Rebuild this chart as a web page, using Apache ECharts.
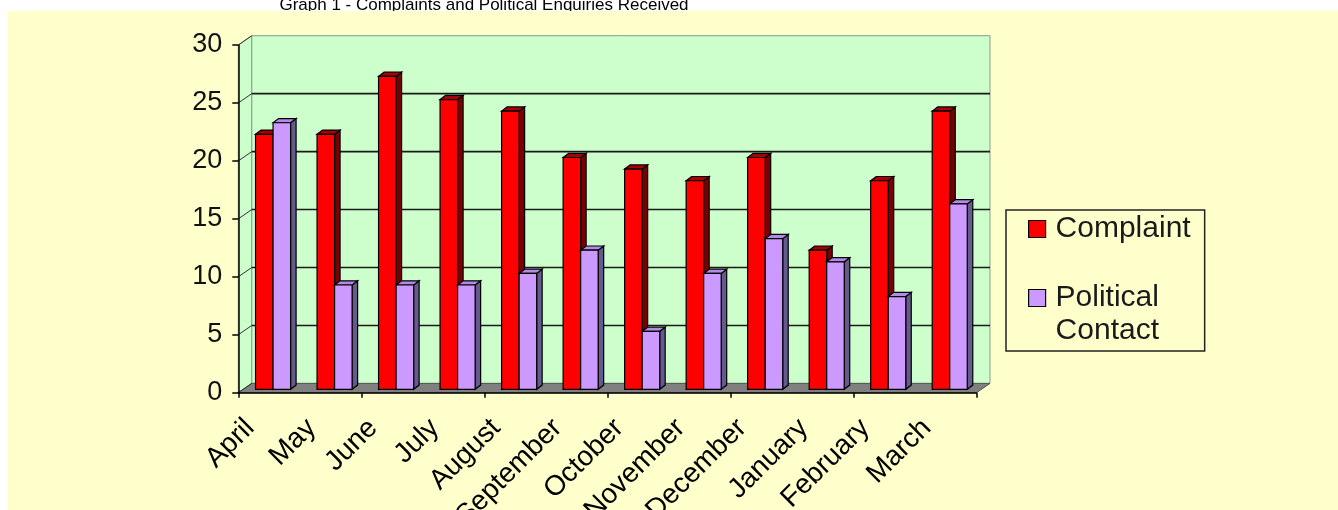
<!DOCTYPE html>
<html>
<head>
<meta charset="utf-8">
<script src="https://cdn.jsdelivr.net/npm/echarts@6/dist/echarts.min.js"></script>
<style>
html,body{margin:0;padding:0;background:#ffffff;}
#chart{width:1338px;height:510px;}
</style>
</head>
<body>
<div id="chart"></div>
<script>
const months = ['April','May','June','July','August','September','October','November','December','January','February','March'];
const complaint = [22,22,27,25,24,20,19,18,20,12,18,24];
const political = [23,9,9,9,10,12,5,10,13,11,8,16];
const yTicks = [0,5,10,15,20,25,30];
const titleText = 'Graph 1 - Complaints and Political Enquiries Received';

const FONT = '"Liberation Sans", Arial, sans-serif';
const DX = 13.5, DY = -9.3;      // wall depth
const BX = 4, BY = -3.4;         // bar row depth
const SX = 5.5, SY = -4.2;       // bar depth
const BAR_FRAC = 0.285;

const chart = echarts.init(document.getElementById('chart'), null, {renderer:'canvas'});

function frameRender(params, api){
  const bw = api.size([1,0])[0];
  const n = months.length;
  const x0 = api.coord([0,0])[0] - bw/2;
  const x1 = api.coord([n-1,0])[0] + bw/2;
  const yb = api.coord([0,yTicks[0]])[1];
  const yt = api.coord([0,yTicks[yTicks.length-1]])[1];
  const ch = [];
  ch.push({type:'polygon', shape:{points:[[x0,yt],[x0+DX,yt+DY],[x0+DX,yb+DY],[x0,yb]]},
    style:{fill:'#CCFFCC', stroke:'#8a9a8a', lineWidth:1}});
  ch.push({type:'polygon', shape:{points:[[x0+DX,yt+DY],[x1+DX,yt+DY],[x1+DX,yb+DY],[x0+DX,yb+DY]]},
    style:{fill:'#CCFFCC', stroke:'#8a9a8a', lineWidth:1}});
  ch.push({type:'polygon', shape:{points:[[x0,yb],[x1,yb],[x1+DX,yb+DY],[x0+DX,yb+DY]]},
    style:{fill:'#808080', stroke:'#555', lineWidth:1}});
  yTicks.forEach(function(v){
    const y = api.coord([0,v])[1];
    ch.push({type:'line', shape:{x1:x0, y1:y, x2:x0+DX, y2:y+DY}, style:{stroke:'#333', lineWidth:1}});
    if (v > yTicks[0] && v < yTicks[yTicks.length-1]) {
      ch.push({type:'line', shape:{x1:x0+DX, y1:y+DY, x2:x1+DX, y2:y+DY}, style:{stroke:'#1a1a1a', lineWidth:1.6}});
    }
  });
  return {type:'group', children:ch};
}

function barRender(side, front, dark, topc){
  return function(params, api){
    const i = api.value(0), v = api.value(1);
    const bw = api.size([1,0])[0];
    const base = api.coord([i,0]);
    const top = api.coord([i,v]);
    const w = bw * BAR_FRAC;
    const xl = base[0] + BX + (side === 0 ? -w : 0);
    const xr = xl + w;
    const yb = base[1] + BY, yt = top[1] + BY;
    const st = {stroke:'#000', lineWidth:1.2};
    return {type:'group', children:[
      {type:'polygon', shape:{points:[[xr,yt],[xr+SX,yt+SY],[xr+SX,yb+SY],[xr,yb]]}, style:Object.assign({fill:dark},st)},
      {type:'polygon', shape:{points:[[xl,yt],[xl+SX,yt+SY],[xr+SX,yt+SY],[xr,yt]]}, style:Object.assign({fill:topc},st)},
      {type:'rect', shape:{x:xl, y:yt, width:w, height:yb-yt}, style:Object.assign({fill:front},st)}
    ]};
  };
}

const option = {
  animation:false,
  backgroundColor:'#ffffff',
  textStyle:{fontFamily:FONT},
  graphic:[
    {type:'text', z:-10, x:484, y:14,
      style:{text:titleText, font:'17px ' + FONT, fill:'#000', textAlign:'center', textVerticalAlign:'bottom'}},
    {type:'rect', z:-5, shape:{x:8, y:11, width:1330, height:499}, style:{fill:'#FFFFCC'}}
  ],
  grid:[
    {left:238.3, right:361.5, top:45, bottom:117.3, outerBoundsMode:'none', containLabel:false},
    {left:219.3, right:380.5, top:45, bottom:117.3, outerBoundsMode:'none', containLabel:false}
  ],
  legend:{
    orient:'vertical', left:1006, top:210,
    padding:[2.5,14,3.5,22],
    borderColor:'#222', borderWidth:1.5,
    itemWidth:17, itemHeight:17, itemGap:3,
    icon:'rect',
    itemStyle:{borderColor:'#000', borderWidth:1.2},
    textStyle:{fontFamily:FONT, fontSize:30, color:'#1a1a1a', lineHeight:33, padding:[0,0,0,5]},
    data:[
      {name:'Complaint'},
      {name:'Political Contact'}
    ],
    formatter:function(name){ return name === 'Political Contact' ? '\nPolitical\nContact' : name; },
    selectedMode:false
  },
  xAxis:[
    {type:'category', gridIndex:0, data:months, boundaryGap:true, z:10,
      axisLine:{show:true, lineStyle:{color:'#000', width:1.5}},
      axisTick:{show:true, length:5, lineStyle:{color:'#000', width:1.5}},
      axisLabel:{show:false}, splitLine:{show:false}},
    {type:'category', gridIndex:1, data:months, boundaryGap:true,
      axisLine:{show:false}, axisTick:{show:false}, splitLine:{show:false},
      axisLabel:{show:true, interval:0, rotate:45, margin:31, fontFamily:FONT, fontSize:28, color:'#000'}}
  ],
  yAxis:[
    {type:'value', gridIndex:0, min:0, max:30, interval:5, z:10,
      axisLine:{show:true, lineStyle:{color:'#000', width:1.5}},
      axisTick:{show:true, length:6, lineStyle:{color:'#000', width:1.5}},
      axisLabel:{show:true, margin:16, fontFamily:FONT, fontSize:27, color:'#111'},
      splitLine:{show:false}},
    {type:'value', gridIndex:1, min:0, max:30, interval:5, show:false}
  ],
  series:[
    {type:'custom', name:'frame', xAxisIndex:0, yAxisIndex:0, z:1, silent:true,
      data:[[0,0]], encode:{x:0, y:1}, renderItem:frameRender},
    {type:'custom', name:'Complaint', xAxisIndex:0, yAxisIndex:0, z:3,
      itemStyle:{color:'#FF0000'},
      data:complaint.map(function(v,i){return [i,v];}), encode:{x:0,y:1},
      renderItem:barRender(0,'#FF0000','#7a0000','#a80000')},
    {type:'custom', name:'Political Contact', xAxisIndex:0, yAxisIndex:0, z:4,
      itemStyle:{color:'#CC99FF'},
      data:political.map(function(v,i){return [i,v];}), encode:{x:0,y:1},
      renderItem:barRender(1,'#CC99FF','#645a8c','#b48ae6')}
  ]
};
chart.setOption(option);
</script>
</body>
</html>
